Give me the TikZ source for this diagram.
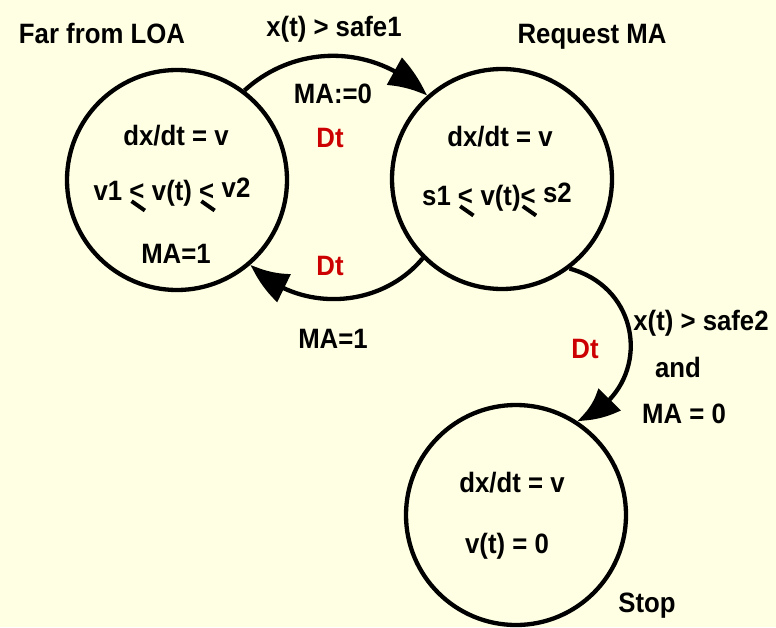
\documentclass[tikz,border=0pt]{standalone}
\usepackage{fontspec}
\setmainfont{Liberation Sans}[FakeStretch=0.92]
\usepackage{graphicx}
\usetikzlibrary{arrows.meta,bending}
\definecolor{bgyellow}{HTML}{FFFFE4}
\definecolor{dtred}{HTML}{CC0000}
\newcommand{\sleq}{\makebox[0.55em][l]{<\kern-0.50em\raisebox{-0.10em}{\rotatebox{-35}{\rule{0.58em}{0.14em}}}}}
\begin{document}
\begin{tikzpicture}[x=1pt,y=-1pt,
  state/.style={circle,draw,line width=4.3pt,minimum size=220pt,inner sep=0pt},
  txt/.style={font=\fontsize{28}{32}\selectfont\bfseries,inner sep=0pt,anchor=base},
  dtlabel/.style={txt,text=dtred},
  trans/.style={line width=4.3pt,-{Triangle[length=42pt,width=30pt,bend]}}]
\fill[bgyellow] (0,0) rectangle (776,627);
\useasboundingbox (0,0) rectangle (776,627);
% states
\node[state] (c1) at (177,180) {};
\node[state] (c2) at (502,179) {};
\node[state] (c3) at (516,515) {};
% state names
\node[txt] (n1) at (102,43) {Far from LOA};
\node[txt] (n2) at (592,43) {Request MA};
\node[txt] (n3) at (647,612) {Stop};
% state contents
\node[txt] (a1) at (176,145) {dx/dt = v};
\node[txt] (a2) at (172,200) {v1 \sleq\ v(t) \sleq\ \raisebox{3pt}{v2}};
\node[txt] (a3) at (176,263) {MA=1};
\node[txt] (b1) at (500,146) {dx/dt = v};
\node[txt] (b2) at (497,205) {s1 \sleq\ v(t)\sleq\ \raisebox{3pt}{s2}};
\node[txt] (d1) at (512,492) {dx/dt = v};
\node[txt] (d2) at (507,553) {v(t) = 0};
% transitions
\draw[trans] (c1.53) to[bend left=44] (c2.132);
\draw[trans] (c2.225) to[bend left=48] (c1.311);
\draw[trans] (c2.307) to[bend left=72,looseness=1.35] (c3.57);
% transition labels
\node[txt] (t1) at (334,36) {x(t) > safe1};
\node[txt] (t2) at (333,103) {MA:=0};
\node[dtlabel] (t3) at (330,147) {Dt};
\node[dtlabel] (u1) at (330,275) {Dt};
\node[txt] (u2) at (333,348) {MA=1};
\node[dtlabel] (v1) at (585,358) {Dt};
\node[txt] (v2) at (701,330) {x(t) > safe2};
\node[txt] (v3) at (678,377) {and};
\node[txt] (v4) at (684,423) {MA = 0};
\end{tikzpicture}
\end{document}
